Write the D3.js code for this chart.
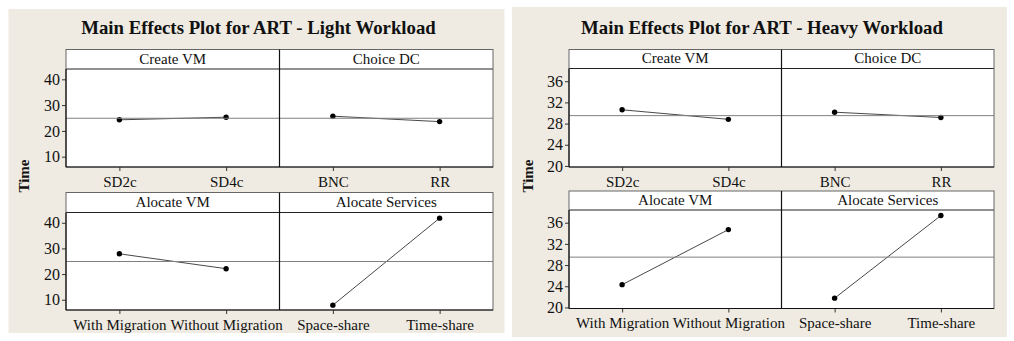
<!DOCTYPE html>
<html>
<head>
<meta charset="utf-8">
<script src="https://cdn.jsdelivr.net/npm/d3@7"></script>
<style>
  body { margin: 0; background: #fff; }
  text { font-family: "Liberation Serif", "Times New Roman", serif; fill: #111; }
</style>
</head>
<body>
<svg id="chart" width="1014" height="341"></svg>
<script>
// Faktoren und Stufen (gleich für beide Diagramme)
const factors = ["Create VM", "Choice DC", "Alocate VM", "Alocate Services"];
const levels = [
    ["SD2c", "SD4c"],
    ["BNC", "RR"],
    ["With Migration", "Without Migration"],
    ["Space-share", "Time-share"]
];

// Mittelwerte
const lightMeans = [[24.3, 25.3], [25.7, 23.6], [27.9, 22.1], [7.9, 41.8]];
const heavyMeans = [[30.6, 28.8], [30.15, 29.15], [24.3, 34.7], [21.75, 37.35]];
const lightGrand = 24.9;
const heavyGrand = 29.5;
const lightTicks = [10, 20, 30, 40];
const heavyTicks = [20, 24, 28, 32, 36];
const lightDomain = [6, 44];
const heavyDomain = [19.8, 38.4];

const svg = d3.select("#chart");

// ein Diagramm (Hintergrund, Titel, 2x2 Zellen)
function drawPanel(opt) {
    const g = svg.append("g").attr("transform", "translate(" + opt.x + "," + opt.y + ")");

    g.append("rect")
        .attr("width", opt.w).attr("height", opt.h)
        .attr("fill", "#efebe2");

    g.append("text")
        .attr("x", opt.titleX).attr("y", opt.titleY)
        .attr("text-anchor", "middle")
        .attr("font-size", 18.8).attr("font-weight", "bold")
        .text(opt.title);

    // Achsentitel
    g.append("text")
        .attr("transform", "translate(" + opt.labelX + "," + opt.labelY + ") rotate(-90)")
        .attr("text-anchor", "middle")
        .attr("font-size", 15).attr("font-weight", "bold")
        .text("Time");

    const colW = (opt.right - opt.left) / 2;

    for (let r = 0; r < 2; r++) {
        const row = opt.rows[r];
        const y = d3.scaleLinear().domain(opt.domain).range([row.bottom, row.strip]);

        for (let c = 0; c < 2; c++) {
            const k = r * 2 + c;
            const x0 = opt.left + c * colW;
            const x = d3.scalePoint().domain(levels[k]).range([x0 + colW * 0.25, x0 + colW * 0.75]);

            // Zelle
            g.append("rect")
                .attr("x", x0).attr("y", row.top)
                .attr("width", colW).attr("height", row.bottom - row.top)
                .attr("fill", "#fff");

            // Streifen mit Faktorname
            g.append("line")
                .attr("x1", x0).attr("x2", x0 + colW)
                .attr("y1", row.strip).attr("y2", row.strip)
                .attr("stroke", "#222").attr("stroke-width", 1);
            g.append("text")
                .attr("x", x0 + colW / 2).attr("y", row.strip - 5.5)
                .attr("text-anchor", "middle")
                .attr("font-size", 15)
                .text(factors[k]);

            // x-Achse
            const xAxis = g.append("g")
                .attr("transform", "translate(0," + row.bottom + ")")
                .call(d3.axisBottom(x).tickSize(4).tickPadding(5));
            xAxis.select(".domain").remove();
            xAxis.selectAll("line").attr("stroke", "#333");
            xAxis.selectAll("text")
                .attr("font-size", 15)
                .attr("fill", "#111");

            // Verbindungslinie und Punkte
            const pts = levels[k].map((lv, i) => ({ lv: lv, v: opt.means[k][i] }));
            g.append("path")
                .datum(pts)
                .attr("fill", "none")
                .attr("stroke", "#333")
                .attr("stroke-width", 0.9)
                .attr("d", d3.line().x(d => x(d.lv)).y(d => y(d.v)));
            g.selectAll(null)
                .data(pts)
                .enter().append("circle")
                .attr("cx", d => x(d.lv)).attr("cy", d => y(d.v))
                .attr("r", 2.7)
                .attr("fill", "#000");
        }

        // Referenzlinie (Gesamtmittel) über die ganze Zeile
        g.append("line")
            .attr("x1", opt.left).attr("x2", opt.right)
            .attr("y1", y(opt.grand)).attr("y2", y(opt.grand))
            .attr("stroke", "#808080").attr("stroke-width", 1);

        // y-Achse
        const yAxis = g.append("g")
            .attr("transform", "translate(" + opt.left + ",0)")
            .call(d3.axisLeft(y).tickValues(opt.ticks).tickSize(4).tickPadding(2));
        yAxis.select(".domain").remove();
        yAxis.selectAll("line").attr("stroke", "#333");
        yAxis.selectAll("text")
            .attr("font-size", 16)
            .attr("fill", "#111");

        // Rahmen
        g.append("rect")
            .attr("x", opt.left).attr("y", row.top)
            .attr("width", opt.right - opt.left).attr("height", row.bottom - row.top)
            .attr("fill", "none").attr("stroke", "#666").attr("stroke-width", 1);
        g.append("line")
            .attr("x1", opt.left + colW).attr("x2", opt.left + colW)
            .attr("y1", row.top).attr("y2", row.bottom)
            .attr("stroke", "#111").attr("stroke-width", 1.2);
        g.append("line")
            .attr("x1", opt.left).attr("x2", opt.right)
            .attr("y1", row.bottom).attr("y2", row.bottom)
            .attr("stroke", "#111").attr("stroke-width", 1.2);
        g.append("line")
            .attr("x1", opt.left).attr("x2", opt.left)
            .attr("y1", row.strip).attr("y2", row.bottom)
            .attr("stroke", "#111").attr("stroke-width", 1.2);
    }
}

drawPanel({
    x: 8.5, y: 9, w: 496, h: 324,
    title: "Main Effects Plot for ART - Light Workload",
    titleX: 250, titleY: 24.5,
    labelX: 20, labelY: 167,
    left: 57.5, right: 484.5,
    rows: [
        { top: 40.5, strip: 60, bottom: 158 },
        { top: 183.5, strip: 203.5, bottom: 301 }
    ],
    domain: lightDomain, ticks: lightTicks,
    means: lightMeans, grand: lightGrand
});

drawPanel({
    x: 512, y: 7, w: 495, h: 330,
    title: "Main Effects Plot for ART - Heavy Workload",
    titleX: 250, titleY: 26.5,
    labelX: 21, labelY: 169,
    left: 57, right: 482,
    rows: [
        { top: 42.5, strip: 61.5, bottom: 160 },
        { top: 184, strip: 203, bottom: 301.5 }
    ],
    domain: heavyDomain, ticks: heavyTicks,
    means: heavyMeans, grand: heavyGrand
});
</script>
</body>
</html>
